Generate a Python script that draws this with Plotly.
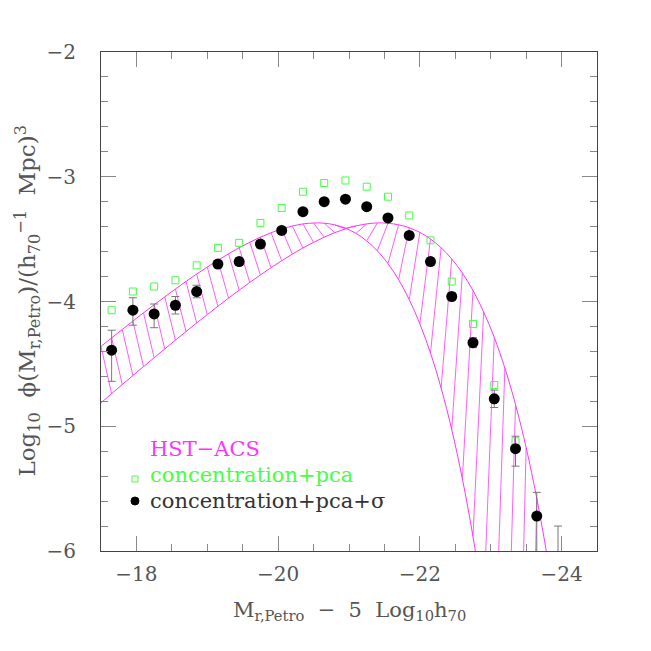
import plotly.graph_objects as go

# ---------------- data ----------------
# HST-ACS band: two boundary curves sampled on a common magnitude grid
M_grid = [-17.50, -17.65, -17.80, -17.95, -18.10, -18.25, -18.40, -18.55, -18.70, -18.85,
          -19.00, -19.15, -19.30, -19.45, -19.60, -19.75, -19.90, -20.05, -20.20, -20.35,
          -20.50, -20.65, -20.80, -20.95, -21.10, -21.25, -21.40, -21.55, -21.70, -21.85,
          -22.00, -22.15, -22.30, -22.45, -22.60, -22.75, -22.90, -23.05, -23.20, -23.35,
          -23.50, -23.65, -23.80, -23.95, -24.10]
band_A = [-4.360, -4.292, -4.224, -4.157, -4.091, -4.026, -3.963, -3.900, -3.839, -3.780,
          -3.724, -3.669, -3.618, -3.569, -3.525, -3.484, -3.449, -3.418, -3.395, -3.378,
          -3.371, -3.372, -3.386, -3.412, -3.454, -3.514, -3.593, -3.696, -3.825, -3.984,
          -4.179, -4.413, -4.694, -5.027, -5.421, -5.885, -6.428, -7.064, -7.805, -8.667,
          -9.668, -10.829, -12.172, -13.727, -15.522]
band_B = [-4.812, -4.739, -4.666, -4.594, -4.522, -4.451, -4.380, -4.310, -4.241, -4.172,
          -4.105, -4.038, -3.973, -3.909, -3.847, -3.787, -3.729, -3.673, -3.620, -3.571,
          -3.526, -3.484, -3.448, -3.418, -3.394, -3.378, -3.370, -3.373, -3.385, -3.409,
          -3.446, -3.499, -3.569, -3.659, -3.772, -3.912, -4.083, -4.288, -4.534, -4.826,
          -5.171, -5.577, -6.053, -6.609, -7.258]

# concentration+pca (open green squares)
M_pca = [-17.65, -17.95, -18.25, -18.55, -18.85, -19.15, -19.45, -19.75, -20.05, -20.35,
         -20.65, -20.95, -21.25, -21.55, -21.85, -22.15, -22.45, -22.75, -23.05, -23.35]
phi_pca = [-4.07, -3.92, -3.88, -3.83, -3.71, -3.57, -3.53, -3.37, -3.25, -3.12,
           -3.05, -3.03, -3.08, -3.16, -3.31, -3.51, -3.84, -4.18, -4.67, -5.12]

# concentration+pca+sigma (black dots with error bars)
M_sig = [-17.65, -17.95, -18.25, -18.55, -18.85, -19.15, -19.45, -19.75, -20.05, -20.35,
         -20.65, -20.95, -21.25, -21.55, -21.85, -22.15, -22.45, -22.75, -23.05, -23.35,
         -23.65, -23.95]
phi_sig = [-4.39, -4.07, -4.10, -4.03, -3.92, -3.70, -3.68, -3.54, -3.43, -3.28,
           -3.20, -3.18, -3.24, -3.33, -3.47, -3.68, -3.96, -4.33, -4.78, -5.18,
           -5.72, -6.30]
err_up = [0.16, 0.10, 0.08, 0.07, 0.05, 0.03, 0.03, 0.03, 0.02, 0.02,
          0.02, 0.02, 0.02, 0.02, 0.02, 0.03, 0.03, 0.04, 0.07, 0.10,
          0.19, 0.50]
err_dn = [0.25, 0.12, 0.11, 0.07, 0.05, 0.03, 0.03, 0.03, 0.02, 0.02,
          0.02, 0.02, 0.02, 0.02, 0.02, 0.03, 0.03, 0.04, 0.07, 0.14,
          0.50, 0.50]

x_ticks = [-18, -20, -22, -24]
y_ticks = [-6, -5, -4, -3, -2]

# ---------------- styles ----------------
MAG = '#ff33ff'
GREEN = '#44ff44'
FONT = 'DejaVu Serif'
AXC = '#444444'
TICKC = '#888888'
TXT = '#555555'

fig = go.Figure()

# band boundaries
for yb in (band_A, band_B):
    fig.add_trace(go.Scatter(x=M_grid, y=yb, mode='lines',
                             line=dict(color=MAG, width=1, shape='spline'),
                             hoverinfo='skip', showlegend=False))

# hatching: segments joining curve A at one grid point to curve B at the next
hx, hy = [], []
for i in range(len(M_grid) - 1):
    hx += [M_grid[i], M_grid[i + 1], None]
    hy += [band_A[i], band_B[i + 1], None]
fig.add_trace(go.Scatter(x=hx, y=hy, mode='lines', line=dict(color=MAG, width=0.8),
                         hoverinfo='skip', showlegend=False))

# green open squares
fig.add_trace(go.Scatter(x=M_pca, y=phi_pca, mode='markers',
                         marker=dict(symbol='square-open', size=7, color=GREEN,
                                     line=dict(width=1, color=GREEN)),
                         showlegend=False))

# black dots with error bars
fig.add_trace(go.Scatter(x=M_sig, y=phi_sig, mode='markers',
                         marker=dict(symbol='circle', size=11, color='black'),
                         error_y=dict(type='data', symmetric=False, array=err_up,
                                      arrayminus=err_dn, color='#777777',
                                      thickness=1, width=4),
                         showlegend=False))

axis_common = dict(showline=True, linecolor=AXC, linewidth=1, mirror='ticks',
                   ticks='inside', ticklen=15, tickwidth=1, tickcolor=TICKC,
                   showgrid=False, zeroline=False, automargin=False,
                   tickfont=dict(family=FONT, size=20, color=TXT))

fig.update_xaxes(range=[-17.5, -24.5], tickvals=x_ticks,
                 minor=dict(tick0=-18, dtick=0.5, ticks='inside', ticklen=7,
                            tickcolor=TICKC, tickwidth=1, showgrid=False),
                 ticklabelstandoff=5, **axis_common)
fig.update_yaxes(range=[-6, -2], tickvals=y_ticks,
                 minor=dict(tick0=-2, dtick=0.2, ticks='inside', ticklen=7,
                            tickcolor=TICKC, tickwidth=1, showgrid=False),
                 ticklabelstandoff=20, **axis_common)

annotations = [
    dict(text='M<sub>r,Petro</sub>  −  5  Log<sub>10</sub>h<sub>70</sub>',
         xref='paper', yref='paper', x=0.5, y=0, yanchor='top', yshift=-45,
         showarrow=False, font=dict(family=FONT, size=21, color=TXT)),
    dict(text='Log<sub>10</sub>  ϕ(M<sub>r,Petro</sub>)/(h<sub>70</sub><sup>−1</sup>  Mpc)<sup>3</sup>',
         xref='paper', yref='paper', x=0, y=0.5, xanchor='center', yanchor='middle',
         xshift=-74, textangle=-90, showarrow=False,
         font=dict(family=FONT, size=23, color=TXT)),
    dict(text='HST−ACS', xref='paper', yref='paper', x=0.0948, y=0.2044,
         xanchor='left', yanchor='middle', showarrow=False,
         font=dict(family=FONT, size=21, color=MAG)),
    dict(text='concentration+pca', xref='paper', yref='paper', x=0.0948, y=0.1523,
         xanchor='left', yanchor='middle', showarrow=False,
         font=dict(family=FONT, size=21, color=GREEN)),
    dict(text='concentration+pca+σ', xref='paper', yref='paper', x=0.0948, y=0.1002,
         xanchor='left', yanchor='middle', showarrow=False,
         font=dict(family=FONT, size=21, color='#333333')),
]

shapes = [
    dict(type='rect', xref='paper', yref='paper', xsizemode='pixel', ysizemode='pixel',
         xanchor=0.0685, yanchor=0.1443, x0=-3, x1=3, y0=-3, y1=3,
         line=dict(color=GREEN, width=1), fillcolor='rgba(0,0,0,0)'),
    dict(type='circle', xref='paper', yref='paper', xsizemode='pixel', ysizemode='pixel',
         xanchor=0.0685, yanchor=0.1002, x0=-4, x1=4, y0=-4, y1=4,
         line=dict(color='black', width=1), fillcolor='black'),
]

# the page body adds an 8 px offset, so the figure is 643 px and margins are shifted
fig.update_layout(width=643, height=643, margin=dict(l=93, r=54, t=44, b=100),
                  plot_bgcolor='white', paper_bgcolor='white', showlegend=False,
                  annotations=annotations, shapes=shapes)

fig.write_html('out.html')
